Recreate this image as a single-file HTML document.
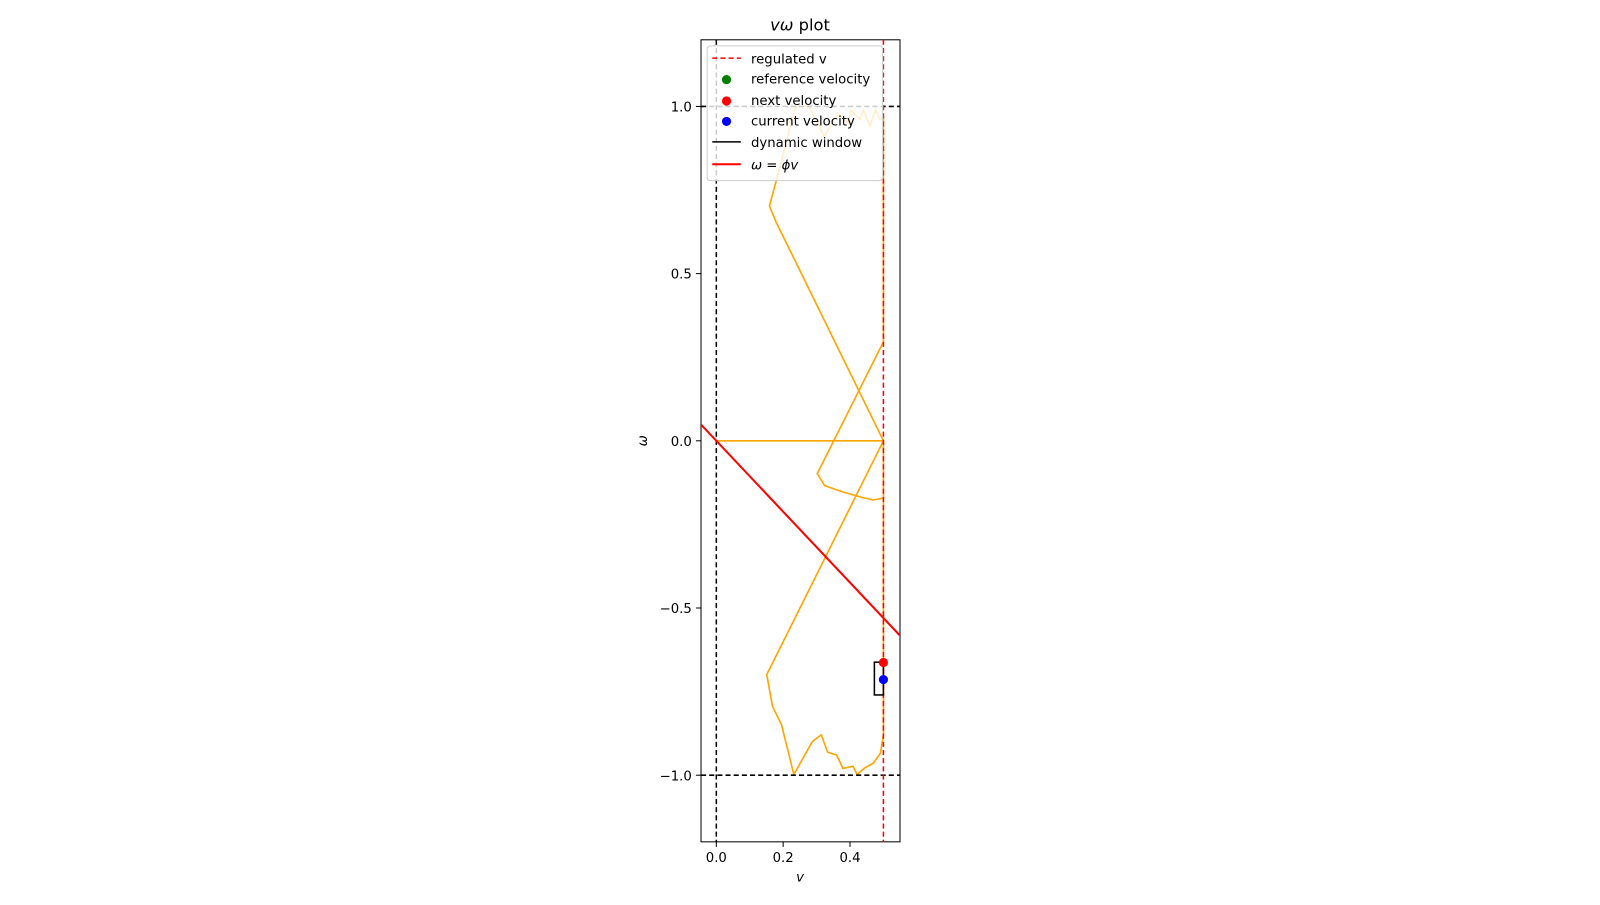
<!DOCTYPE html>
<html><head><meta charset="utf-8"><style>
body{margin:0;background:#fff;}
svg{font-family:"DejaVu Sans","Liberation Sans",sans-serif;}
</style></head><body>
<svg id="c" width="1600" height="900">
<g transform="scale(1.0204)">
<rect x="687" y="39" width="195" height="786" fill="none" stroke="#000" stroke-width="1"/>
<g id="plot"></g>
<text x="784" y="30" font-size="16" text-anchor="middle"><tspan font-style="italic">vω</tspan> plot</text>
<text x="784" y="864" font-size="13" text-anchor="middle" font-style="italic">v</text>
<text x="634" y="432" font-size="13" text-anchor="middle" font-style="italic" transform="rotate(-90 634 432)">ω</text>
<g>
<rect x="693" y="45" width="172" height="132" rx="3" fill="#fff" fill-opacity="0.8" stroke="#ccc"/>
<line x1="698" y1="57" x2="726" y2="57" stroke="red" stroke-width="1.5" stroke-dasharray="5,3"/>
<text x="736" y="62" font-size="13">regulated v</text>
<circle cx="712" cy="78" r="4.5" fill="green"/>
<text x="736" y="82" font-size="13">reference velocity</text>
<circle cx="712" cy="99" r="4.5" fill="red"/>
<text x="736" y="103" font-size="13">next velocity</text>
<circle cx="712" cy="119" r="4.5" fill="blue"/>
<text x="736" y="123" font-size="13">current velocity</text>
<line x1="698" y1="139" x2="726" y2="139" stroke="#000" stroke-width="1.5"/>
<text x="736" y="144" font-size="13">dynamic window</text>
<line x1="698" y1="161" x2="726" y2="161" stroke="red" stroke-width="2"/>
<text x="736" y="166" font-size="13" font-style="italic">ω = ϕv</text>
</g>
</g>
</svg>
<script>
const xTicks=[0.0,0.2,0.4];
const yTicks=[1.0,0.5,0.0,-0.5,-1.0];
const yTickLabels=["1.0","0.5","0.0","\u22120.5","\u22121.0"];
const trajV=[0,0.5,0.5,0.178,0.159,0.208,0.223,0.238,0.278,0.323,0.363,0.395,0.403,0.43,0.44,0.46,0.476,0.49,0.5,0.5,0.302,0.324,0.379,0.431,0.47,0.5,0.5,0.151,0.168,0.195,0.232,0.287,0.314,0.333,0.36,0.379,0.409,0.421,0.446,0.47,0.491,0.5,0.5];
const trajW=[0,0,0,0.656,0.702,0.885,0.95,1.0,1.0,0.91,0.98,0.95,0.99,0.96,0.99,0.94,0.99,0.96,0.97,0.296,-0.098,-0.134,-0.153,-0.168,-0.177,-0.171,0,-0.699,-0.794,-0.849,-0.998,-0.9,-0.879,-0.931,-0.94,-0.98,-0.973,-0.998,-0.977,-0.964,-0.934,-0.879,0];
const phi=-1.06;
const regulatedV=0.5;
const nextVel=[0.5,-0.663];
const currVel=[0.5,-0.714];
const windowBox=[0.473,0.5,-0.76,-0.662];
const X=v=>702+v*327.5, Y=w=>432-w*327.7;
const ns="http://www.w3.org/2000/svg", g=document.getElementById('plot');
function mk(t,a){const e=document.createElementNS(ns,t);for(const k in a)e.setAttribute(k,a[k]);g.appendChild(e);return e;}
xTicks.forEach(v=>{const l=mk('line',{x1:X(v),x2:X(v),y1:825,y2:830,stroke:'#000'});


const t=mk('text',{x:X(v),y:845,'font-size':13,'text-anchor':'middle'});t.textContent=v.toFixed(1);

});
yTicks.forEach((w,i)=>{const l=mk('line',{x1:682,x2:687,y1:Y(w),y2:Y(w),stroke:'#000'});


const t=mk('text',{x:678,y:Y(w)+5,'font-size':13,'text-anchor':'end'});t.textContent=yTickLabels[i];

});
const cp=mk('clipPath',{id:'cl'});const cr=document.createElementNS(ns,'rect');cr.setAttribute('x',687);cr.setAttribute('y',39);cr.setAttribute('width',195);cr.setAttribute('height',786);cp.appendChild(cr);
const inner=mk('g',{'clip-path':'url(#cl)'});
function mi(t,a){const e=mk(t,a);inner.appendChild(e);return e;}
let d=trajV.map((v,i)=>(i?'L':'M')+X(v)+','+Y(trajW[i])).join('');
const tr=mi('path',{d:d,fill:'none',stroke:'orange','stroke-width':1.6,'stroke-linejoin':'round'});


[1,-1].forEach(w=>{const l=mi('line',{x1:687,x2:882,y1:Y(w),y2:Y(w),stroke:'#000','stroke-width':1.5,'stroke-dasharray':'5,3'});

});
const v0=mi('line',{x1:X(0),x2:X(0),y1:39,y2:825,stroke:'#000','stroke-width':1.5,'stroke-dasharray':'5,3'});


const rv=mi('line',{x1:X(regulatedV),x2:X(regulatedV),y1:39,y2:825,stroke:'red','stroke-width':1.5,'stroke-dasharray':'5,3'});


const pl=mi('line',{x1:X(-0.05),y1:Y(-0.05*phi),x2:X(0.56),y2:Y(0.56*phi),stroke:'red','stroke-width':2});


const wb=mi('rect',{x:X(windowBox[0]),y:Y(windowBox[3]),width:X(windowBox[1])-X(windowBox[0]),height:Y(windowBox[2])-Y(windowBox[3]),fill:'none',stroke:'#000','stroke-width':1.5});


const nd=mi('circle',{cx:X(nextVel[0]),cy:Y(nextVel[1]),r:4.5,fill:'red'});


const cd=mi('circle',{cx:X(currVel[0]),cy:Y(currVel[1]),r:4.5,fill:'blue'});


</script>
</body></html>
